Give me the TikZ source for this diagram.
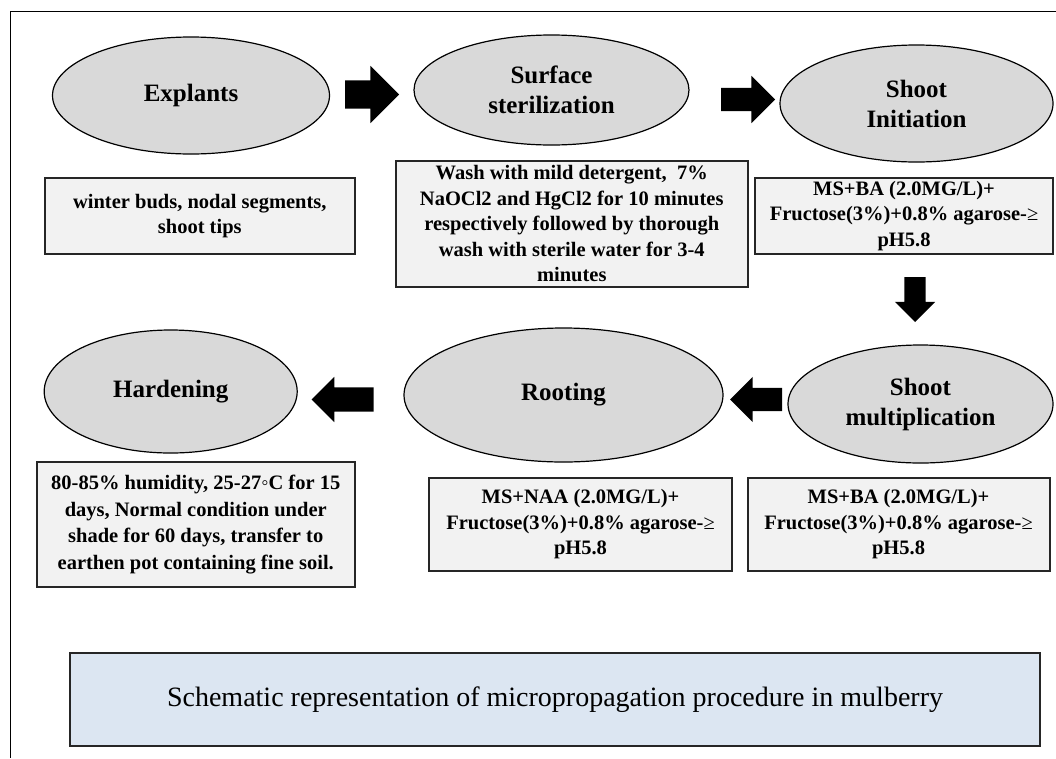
\documentclass[tikz,border=0pt]{standalone}
\usepackage{fontspec}
\setmainfont{Liberation Serif}
\usetikzlibrary{shapes.geometric,shapes.arrows}
\definecolor{stagegray}{HTML}{D9D9D9}
\definecolor{boxgray}{HTML}{F2F2F2}
\definecolor{titleblue}{HTML}{DCE6F2}
\definecolor{edgegray}{HTML}{262626}
\begin{document}
\begin{tikzpicture}[x=1pt,y=-1pt,
  stage/.style={ellipse, draw=black, line width=1.2pt, fill=stagegray, inner sep=0pt,
    align=center, font=\bfseries\fontsize{25}{30}\selectfont},
  info/.style={rectangle, draw=edgegray, line width=2pt, fill=boxgray, inner sep=0pt,
    align=center, font=\bfseries\fontsize{20.5}{25.5}\selectfont},
  titlebox/.style={rectangle, draw=edgegray, line width=2.2pt, fill=titleblue, inner sep=0pt,
    align=center, font=\fontsize{28}{33}\selectfont},
  blockarrow/.style={single arrow, fill=black, draw=none, inner xsep=0pt, outer sep=0pt,
    single arrow tip angle=90, anchor=tail},
  frameline/.style={line width=1pt, draw=black}
]
\useasboundingbox (0,0) rectangle (1056,758);
\coordinate (fr1) at (1056,11);
\coordinate (fr2) at (10,11);
\coordinate (fr3) at (10,758);
\draw[frameline] (fr1) -- (fr2) -- (fr3);

% stages
\node[stage, minimum width=277pt, minimum height=117pt] (explants) at (191,95.5) {Explants};
\node[stage, minimum width=275pt, minimum height=110pt] (surface) at (551.5,90) {Surface\\sterilization};
\node[stage, minimum width=273pt, minimum height=117pt] (init) at (916.5,103.5) {Shoot\\Initiation};
\node[stage, minimum width=265pt, minimum height=118pt] (mult) at (920.5,404) {Shoot\\multiplication};
\node[stage, minimum width=319pt, minimum height=134pt] (rooting) at (563.5,395) {Rooting};
\node[stage, minimum width=253pt, minimum height=123pt] (hardening) at (170.7,391.5) {Hardening};

% info boxes
\node[info, minimum width=310pt, minimum height=76pt] (explantsbox) at (199.8,216)
  {winter buds, nodal segments,\\shoot tips};
\node[info, minimum width=352pt, minimum height=126pt] (surfacebox) at (571.75,224)
  {Wash with mild detergent,~~7\%\\NaOCl2 and HgCl2 for 10 minutes\\respectively followed by thorough\\wash with sterile water for 3-4\\minutes};
\node[info, minimum width=298pt, minimum height=76pt] (initbox) at (904,216)
  {MS+BA (2.0MG/L)+\\Fructose(3\%)+0.8\% agarose-{\mdseries ≥}\\pH5.8};
\node[info, minimum width=302pt, minimum height=93pt] (multbox) at (898.5,524.5)
  {MS+BA (2.0MG/L)+\\Fructose(3\%)+0.8\% agarose-{\mdseries ≥}\\pH5.8};
\node[info, minimum width=303pt, minimum height=93pt] (rootbox) at (580.5,524.5)
  {MS+NAA (2.0MG/L)+\\Fructose(3\%)+0.8\% agarose-{\mdseries ≥}\\pH5.8};
\node[info, minimum width=318pt, minimum height=125pt,
  font=\bfseries\fontsize{20.5}{26.5}\selectfont] (hardbox) at (195.75,524.5)
  {80-85\% humidity, 25-27◦C for 15\\days, Normal condition under\\shade for 60 days, transfer to\\earthen pot containing fine soil.};

% title
\node[titlebox, minimum width=970pt, minimum height=93pt] (title) at (555,699.5)
  {Schematic representation of micropropagation procedure in mulberry};

% block arrows (placed by their tails)
\node[blockarrow, minimum height=54pt, minimum width=57pt, inner ysep=14pt, single arrow head extend=14.5pt] (a1) at (345,94.5) {};
\node[blockarrow, minimum height=54pt, minimum width=47pt, inner ysep=11.5pt, single arrow head extend=12pt] (a2) at (721,99.5) {};
\node[blockarrow, minimum height=45pt, minimum width=40pt, inner ysep=10.5pt, single arrow head extend=9.5pt, rotate=-90] (a3) at (915,277) {};
\node[blockarrow, minimum height=52pt, minimum width=45pt, inner ysep=11.5pt, single arrow head extend=11pt, rotate=180] (a4) at (782,399.5) {};
\node[blockarrow, minimum height=62pt, minimum width=45pt, inner ysep=12pt, single arrow head extend=10.5pt, rotate=180] (a5) at (373.6,399.5) {};
\end{tikzpicture}
\end{document}
